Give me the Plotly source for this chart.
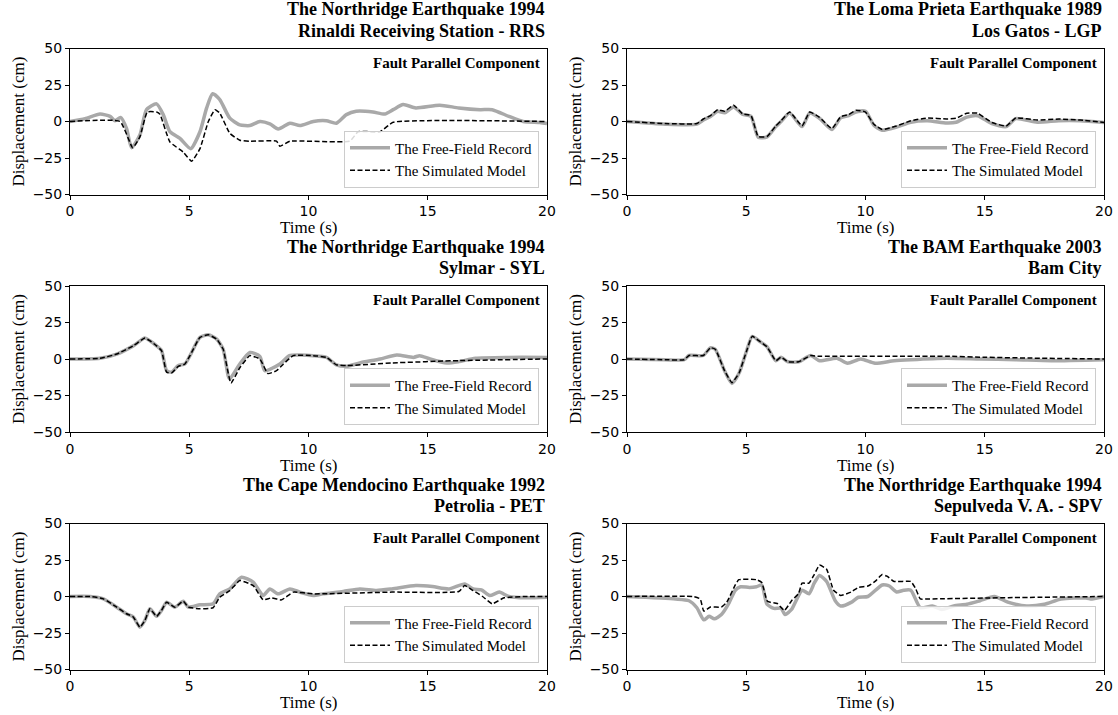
import plotly.graph_objects as go

W, H = 1118, 715
SERIF = "Liberation Serif"
SANS = "DejaVu Sans"

# ---- Northridge 1994, Rinaldi Receiving Station (RRS) ----
RRS_REC_T = [0, 0.63, 1.26, 1.68, 1.89, 2.12, 2.37, 2.58, 2.93, 3.21, 3.63, 3.91, 4.19, 4.61, 5.06,
             5.45, 5.73, 5.98, 6.28, 6.7, 7.12, 7.54, 7.96, 8.38, 8.73, 9.22, 9.64, 10.2, 10.75,
             11.17, 11.59, 12.0, 12.7, 13.2, 13.55, 13.97, 14.5, 15.5, 16.3, 17.2, 17.7, 18.4,
             19.0, 19.7, 20]
RRS_REC_D = [0, 1.9, 5.1, 3.5, 0.5, 2.8, -4.7, -18, -9.3, 8.1, 12.1, 4.7, -7, -11.6, -18.6,
             -7, 9.3, 19, 15, 2.3, -2.3, -2.8, 0, -1.6, -5.1, -1.2, -2.8, 0, 0.5,
             -1.2, 4.7, 7, 6.5, 5.1, 8.1, 11.6, 9.3, 11.2, 9.3, 8.1, 8.1, 3.5,
             0, -0.7, -1.4]
RRS_SIM_T = [0, 2.1, 2.63, 2.93, 3.24, 3.63, 3.77, 4.19, 4.75, 5.1, 5.45, 5.8, 6.08, 6.28, 6.7,
             7.12, 7.54, 8.66, 8.8, 9.22, 11.73, 12.08, 13.0, 13.55, 20]
RRS_SIM_D = [0, 0, -18, -10.5, 6.5, 6.5, 5, -14, -21, -27.2, -18.6, 0, 8.1, 5.8, -8.1,
             -12.8, -13.5, -13.5, -17, -13.5, -13.5, -7, -7, -0.5, 0]

# ---- Loma Prieta 1989, Los Gatos (LGP) ----
LGP_SIM_T = [0, 1.6, 2.93, 3.2, 3.5, 3.8, 4.1, 4.47, 4.84, 5.2, 5.5, 5.87, 6.24, 6.46, 6.82, 7.34,
             7.66, 8.07, 8.59, 8.96, 9.3, 9.6, 10.0, 10.35, 10.7, 11.3, 11.9, 12.6, 13.4, 13.8,
             14.25, 14.7, 15.3, 15.9, 16.3, 17.2, 18.1, 19.0, 20]
LGP_SIM_D = [0, -1.4, -1.4, 1.7, 4, 8, 7, 11.2, 5.3, 4, -10.3, -10.3, -3, 0.5, 6.5, -3,
             6.5, 2.9, -4.8, 3.3, 4.8, 7.7, 6.5, -1.9, -5.5, -3.1, 0.5, 2.4, 1.7, 2.2,
             5.7, 5.7, -0.7, -3.1, 2.4, 1, 1.7, 1, -0.7]
LGP_REC_T = LGP_SIM_T
LGP_REC_D = [0, -1.8, -1.8, 1.0, 3.5, 7, 6, 10, 5, 3.5, -10.8, -10.5, -3.5, 0, 5.8, -3.5,
             5.8, 2.2, -5.5, 2.5, 4, 6.5, 7, -2.5, -6, -3.8, -0.5, 0.5, -1, -0.5,
             3, 4, -1.5, -3.5, 2, -0.5, 0.5, 0.5, -0.7]

# ---- Northridge 1994, Sylmar (SYL) ----
SYL_REC_T = [0, 1.26, 1.96, 2.65, 3.14, 3.35, 3.63, 3.84, 4.05, 4.26, 4.54, 4.82, 5.03, 5.45,
             5.8, 6.15, 6.42, 6.63, 6.7, 7.12, 7.54, 7.96, 8.17, 8.8, 9.2, 9.64, 10.2, 10.75,
             11.17, 11.6, 12.15, 13.0, 13.7, 14.4, 14.66, 15.1, 15.8, 16.3, 17.0, 18.4, 20]
SYL_REC_D = [0, 0.5, 3.4, 9, 14.3, 12.5, 9, 5.7, -8, -9, -4.5, -3.4, 2.3, 14.8,
             16.6, 13.6, 6.8, -11.4, -13.6, -3.4, 4.5, 1.8, -8, -3.4, 2.3, 2.7, 2.3, 1.1,
             -4, -5, -2.7, 0, 2.7, 1.1, 2.3, 0, -2.7, -1.8, 0.5, 1.1, 1.1]
SYL_SIM_T = [0, 1.26, 1.96, 2.65, 3.14, 3.35, 3.63, 3.84, 4.05, 4.26, 4.54, 4.82, 5.03, 5.45,
             5.8, 6.15, 6.42, 6.75, 7.12, 7.54, 7.96, 8.3, 8.66, 8.95, 9.36, 10.2, 10.75,
             11.17, 11.6, 13.5, 16.3, 20]
SYL_SIM_D = [0, 0.5, 3.4, 9, 14.3, 12.5, 9, 5.7, -9, -9.5, -5, -3.4, 2.3, 14.8,
             16.6, 13.6, 6.8, -16.5, -6, 2.3, 0, -10, -8, -3.4, 2.3, 2.3, 1.1,
             -4, -4.5, -2.7, -1.1, 0]

# ---- BAM 2003, Bam City ----
BAM_REC_T = [0, 1.6, 2.4, 2.6, 3.2, 3.5, 3.7, 4.1, 4.4, 4.7, 5.0, 5.25, 5.57, 5.87, 6.24, 6.46,
             6.75, 7.2, 7.7, 8.07, 8.8, 9.25, 9.8, 10.4, 11.2, 11.9, 13.4, 14.8, 16.3, 17.8, 20]
BAM_REC_D = [0, -0.5, -0.5, 2.4, 2.4, 7.7, 6.7, -8.4, -16.7, -9.6, 4.8, 15.5, 12, 8.4, -1.2, 1.2,
             -1.9, -1.9, 2.4, -1.2, 0.5, -2.9, 0, -2.9, -1.2, -0.5, 0.5, 0, -0.5, -1.2, -0.5]
BAM_SIM_T = [0, 1.6, 2.4, 2.6, 3.2, 3.5, 3.7, 4.1, 4.4, 4.7, 5.0, 5.25, 5.57, 5.87, 6.24, 6.46,
             6.75, 7.2, 7.7, 8.0, 13.4, 15.0, 17.0, 20]
BAM_SIM_D = [0, -0.5, -0.5, 2.4, 2.4, 7.7, 6.7, -8.4, -16.2, -9.6, 4.8, 15.5, 12, 8.4, -1.2, 1.2,
             -1.9, -1.9, 2.4, 1.9, 1.9, 1.2, 0.6, 0]

# ---- Cape Mendocino 1992, Petrolia (PET) ----
PET_REC_T = [0, 0.84, 1.4, 1.96, 2.37, 2.65, 2.93, 3.14, 3.35, 3.63, 3.84, 4.05, 4.4, 4.75, 4.96,
             5.45, 6.0, 6.28, 6.7, 7.19, 7.68, 8.1, 8.38, 8.73, 9.22, 9.64, 10.2, 10.6, 11.45,
             12.15, 12.85, 13.5, 14.5, 15.2, 15.9, 16.55, 16.9, 17.25, 17.6, 18.0, 18.4, 19.1, 20]
PET_REC_D = [0, 0, -1.6, -7.3, -11.8, -14, -21, -16.4, -8.4, -13.6, -9.5, -3.9, -7.3, -3.2, -7.3,
             -5.7, -5, 1.8, 5.2, 13.2, 9.8, 0.7, 5.2, 1.8, 5.2, 3, 0.7, 1.8, 3.4,
             5.2, 4.1, 5.2, 7.5, 6.8, 5.2, 8.6, 5.2, 4.5, 0.7, 3, 0, -0.9, -0.5]
PET_SIM_T = [0, 0.84, 1.4, 1.96, 2.37, 2.65, 2.93, 3.14, 3.35, 3.63, 3.84, 4.05, 4.4, 4.75, 4.96,
             5.45, 6.0, 6.28, 6.7, 7.12, 7.68, 8.1, 8.45, 8.87, 9.36, 10.2, 13.5, 16.3, 16.55,
             16.9, 17.3, 17.7, 18.2, 19.1, 20]
PET_SIM_D = [0, 0, -1.6, -7.3, -11.8, -14, -21, -16.4, -8.4, -13.6, -9.5, -3.9, -7.3, -3.2, -7.3,
             -8.4, -7.7, -0.5, 4, 10.9, 7.5, -2.3, -0.9, -2.3, 3, 1.8, 3, 3.4, 7.5,
             4.1, 0, -5, -0.9, 0, 0]

# ---- Northridge 1994, Sepulveda V. A. (SPV) ----
SPV_REC_T = [0, 2.04, 2.6, 2.93, 3.22, 3.44, 3.66, 3.96, 4.25, 4.54, 4.76, 5.13, 5.43, 5.65, 5.87,
             6.16, 6.46, 6.63, 6.9, 7.34, 7.63, 7.85, 8.07, 8.37, 8.73, 8.96, 9.4, 9.7, 10.1,
             10.7, 11.0, 11.3, 11.6, 11.9, 12.3, 12.8, 13.2, 13.7, 14.25, 14.8, 15.4, 16.0,
             16.75, 17.5, 18.2, 19.25, 19.5, 20]
SPV_REC_D = [0, -1.7, -2.9, -7.7, -16, -13.6, -15.3, -12.4, -5.3, 4.3, 6.7, 6.2, 6.7, 7.9, -5.3,
             -8.1, -8.1, -12.4, -8.9, 4.3, 1.9, 9.1, 14.4, 10.3, -2.9, -6.5, -4, -0.5, 0,
             7.9, 7.2, 3.1, 4.3, 4.3, -7.7, -6.5, -8.9, -6.5, -5.3, -2.9, 0, -4,
             -6.5, -5.3, -1.7, -1, -1.7, 0]
SPV_SIM_T = [0, 2.78, 3.07, 3.22, 3.5, 3.96, 4.18, 4.54, 4.69, 5.43, 5.65, 5.87, 6.01, 6.3, 6.6,
             6.9, 7.19, 7.34, 7.63, 7.85, 8.07, 8.37, 8.66, 8.96, 9.4, 9.7, 10.1, 10.4, 10.7,
             10.9, 11.2, 11.9, 12.1, 12.3, 12.6, 16.0, 20]
SPV_SIM_D = [0, 0, -1.7, -10, -7.2, -7.2, -4, 7.9, 11.5, 11.5, 9.6, -2.9, -4, -4.8, -9.6,
             -2.9, 1.9, 9.1, 9.1, 15, 21.5, 18.7, 4.3, 0.7, 3.1, 6.2, 7.2, 10.3, 15,
             13.9, 10.3, 10.3, 5.5, -1.7, -1.7, -0.8, 0]

TITLES = [
    ("The Northridge Earthquake 1994", "Rinaldi Receiving Station - RRS"),
    ("The Loma Prieta Earthquake 1989", "Los Gatos - LGP"),
    ("The Northridge Earthquake 1994", "Sylmar - SYL"),
    ("The BAM Earthquake 2003", "Bam City"),
    ("The Cape Mendocino Earthquake 1992", "Petrolia - PET"),
    ("The Northridge Earthquake 1994", "Sepulveda V. A. - SPV"),
]
RECORDS = [(RRS_REC_T, RRS_REC_D), (LGP_REC_T, LGP_REC_D), (SYL_REC_T, SYL_REC_D),
           (BAM_REC_T, BAM_REC_D), (PET_REC_T, PET_REC_D), (SPV_REC_T, SPV_REC_D)]
MODELS = [(RRS_SIM_T, RRS_SIM_D), (LGP_SIM_T, LGP_SIM_D), (SYL_SIM_T, SYL_SIM_D),
          (BAM_SIM_T, BAM_SIM_D), (PET_SIM_T, PET_SIM_D), (SPV_SIM_T, SPV_SIM_D)]

Y_TICKS = [-50, -25, 0, 25, 50]
X_TICKS = [0, 5, 10, 15, 20]

# panel geometry in pixels: (left, right) per column, (top, bottom) per row
COLS = [(70, 547), (627, 1104)]
ROWS = [(48.5, 194.5), (286, 432), (523.5, 669.5)]


def px(xp, yp):
    """pixel position -> paper coordinates"""
    return xp / W, 1 - yp / H


fig = go.Figure()
layout = dict(
    width=W, height=H, margin=dict(l=0, r=0, t=0, b=0),
    paper_bgcolor="white", plot_bgcolor="white", showlegend=True,
    annotations=[],
)

for i in range(6):
    r, c = divmod(i, 2)
    xl, xr = COLS[c]
    yt, yb = ROWS[r]
    n = "" if i == 0 else str(i + 1)
    xa, ya = "x" + n, "y" + n
    leg = "legend" + n

    rt, rd = RECORDS[i]
    mt, md = MODELS[i]
    fig.add_trace(go.Scatter(
        x=rt, y=rd, xaxis=xa, yaxis=ya, mode="lines", name="The Free-Field Record",
        line=dict(color="#a9a9a9", width=3.5, shape="spline", smoothing=0.6), legend=leg))
    fig.add_trace(go.Scatter(
        x=mt, y=md, xaxis=xa, yaxis=ya, mode="lines", name="The Simulated Model",
        line=dict(color="black", width=1.5, dash="5px,2.5px", shape="spline", smoothing=0.4),
        legend=leg))

    common = dict(showgrid=False, zeroline=False, showline=True, linecolor="black", linewidth=1,
                  mirror=True, ticks="outside", ticklen=4, tickwidth=1, tickcolor="black",
                  automargin=False,
                  tickfont=dict(family=SANS, size=14, color="black"))
    layout["xaxis" + n] = dict(common, domain=[xl / W, xr / W], range=[0, 20],
                               tickvals=X_TICKS, anchor=ya)
    layout["yaxis" + n] = dict(common, domain=[1 - yb / H, 1 - yt / H], range=[-50, 50],
                               tickvals=Y_TICKS, anchor=xa)

    lx, ly = px(xr - 8, yb - 7)
    layout[leg] = dict(
        x=lx, y=ly, xanchor="right", yanchor="bottom",
        bgcolor="rgba(255,255,255,0.85)", bordercolor="#cccccc", borderwidth=1,
        font=dict(family=SERIF, size=15, color="black"), tracegroupgap=0, itemwidth=40)

    ann = layout["annotations"]
    # axis titles
    ax_, ay_ = px((xl + xr) / 2, yb + 33)
    ann.append(dict(xref="paper", yref="paper", x=ax_, y=ay_, xanchor="center",
                    yanchor="middle", showarrow=False, text="Time (s)",
                    font=dict(family=SERIF, size=17, color="black")))
    ax_, ay_ = px(xl - 52, (yt + yb) / 2)
    ann.append(dict(xref="paper", yref="paper", x=ax_, y=ay_, xanchor="center",
                    yanchor="middle", showarrow=False, text="Displacement (cm)", textangle=-90,
                    font=dict(family=SERIF, size=17, color="black")))
    # two-line panel title, right-aligned to the frame
    l1, l2 = TITLES[i]
    for txt, off in ((l1, 39), (l2, 18)):
        tx, ty = px(xr, yt - off)
        ann.append(dict(xref="paper", yref="paper", x=tx, y=ty, xanchor="right",
                        yanchor="middle", showarrow=False, text="<b>%s</b>" % txt,
                        font=dict(family=SERIF, size=18, color="black")))
    fx, fy = px(xr - 5, yt + 4)
    ann.append(dict(xref="paper", yref="paper", x=fx, y=fy, xanchor="right",
                    yanchor="top", showarrow=False, text="<b>Fault Parallel Component</b>",
                    font=dict(family=SERIF, size=15, color="black")))

fig.update_layout(**layout)
fig.write_html("out.html")
